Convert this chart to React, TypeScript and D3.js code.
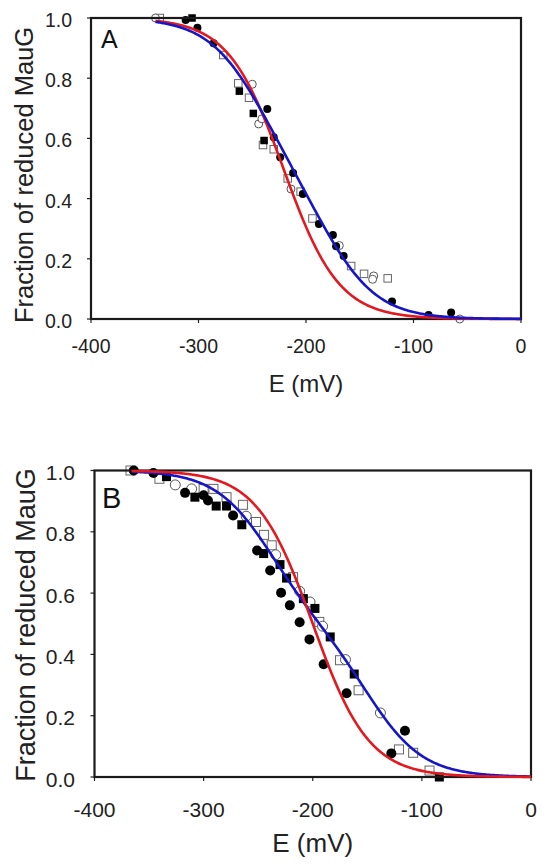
import React from "react";
import * as d3 from "d3";

// ---------- shared axis values ----------
const E_TICKS = [-400, -300, -200, -100, 0];
const F_TICKS = [0, 0.2, 0.4, 0.6, 0.8, 1.0];
const X_TITLE = "E (mV)";
const Y_TITLE = "Fraction of reduced MauG";

// ---------- Panel A data [E (mV), fraction] ----------
const A_FILLED_CIRCLE: [number, number][] = [
  [-312, 0.993], [-301, 0.968], [-286, 0.916], [-236, 0.698], [-230, 0.604],
  [-224, 0.537], [-212, 0.485], [-203, 0.415], [-188, 0.316], [-175, 0.279],
  [-172, 0.242], [-165, 0.209], [-120, 0.058], [-86, 0.013], [-65, 0.022],
];
const A_FILLED_SQUARE: [number, number][] = [
  [-306, 1.0], [-262, 0.757], [-249, 0.683], [-239, 0.593],
];
const A_OPEN_CIRCLE: [number, number][] = [
  [-340, 1.0], [-250, 0.78], [-244, 0.648], [-241, 0.665], [-214, 0.432],
  [-169, 0.244], [-137, 0.143], [-138, 0.132], [-57, 0.0],
];
const A_OPEN_SQUARE: [number, number][] = [
  [-336, 1.0], [-277, 0.877], [-263, 0.783], [-253, 0.735], [-240, 0.578],
  [-230, 0.564], [-217, 0.467], [-205, 0.423], [-194, 0.334], [-158, 0.176],
  [-146, 0.15], [-124, 0.135],
];
// fitted midpoint potentials (mV), n = 1 per site
const A_RED_FIT = [-221];
const A_BLUE_FIT = [-245, -180];

// ---------- Panel B data ----------
const B_FILLED_CIRCLE: [number, number][] = [
  [-364, 1.0], [-346, 0.992], [-317, 0.927], [-300, 0.919], [-296, 0.902],
  [-273, 0.853], [-251, 0.739], [-239, 0.674], [-229, 0.601], [-221, 0.56],
  [-212, 0.505], [-203, 0.449], [-190, 0.368], [-169, 0.273], [-128, 0.077],
  [-115.5, 0.151],
];
const B_FILLED_SQUARE: [number, number][] = [
  [-334, 0.98], [-308, 0.913], [-288.5, 0.884], [-279, 0.884], [-265, 0.823],
  [-245, 0.729], [-230, 0.693], [-224, 0.649], [-208.6, 0.582], [-198, 0.55],
  [-184, 0.457], [-162, 0.336], [-84, 0.0],
];
const B_OPEN_CIRCLE: [number, number][] = [
  [-326, 0.953], [-311, 0.94], [-261, 0.851], [-234, 0.725], [-212, 0.606],
  [-202.5, 0.571], [-191, 0.492], [-170, 0.383], [-138, 0.209],
];
const B_OPEN_SQUARE: [number, number][] = [
  [-367, 1.0], [-340.5, 0.973], [-300, 0.94], [-291, 0.94], [-279, 0.913],
  [-264, 0.888], [-252, 0.832], [-244.6, 0.79], [-237.6, 0.756], [-218, 0.652],
  [-194, 0.506], [-175, 0.381], [-158, 0.283], [-121, 0.09], [-108, 0.079],
  [-93, 0.021],
];
const B_RED_FIT = [-200];
const B_BLUE_FIT = [-240, -148];

const RT_F = 25.69;
function nernst(E: number, sites: number[]) {
  return d3.mean(sites, (em) => 1 / (1 + Math.exp((E - em) / RT_F))) as number;
}

const RED = "#e3191f";
const BLUE = "#1616c8";
const FONT = "Liberation Sans, Arial, Helvetica, sans-serif";

type PanelCfg = {
  label: string;
  left: number; right: number; top: number; bottom: number;
  tickFont: number; titleFont: number; yTitleFont: number; labelFont: number;
  labelX: number; labelY: number;
  xTickBase: number; xTitleBase: number; yTickRight: number;
  yTitleX: number; yTitleCY: number;
  r: number; side: number; eStart: number;
  filledCircle: [number, number][]; filledSquare: [number, number][];
  openCircle: [number, number][]; openSquare: [number, number][];
  red: number[]; blue: number[]; redOnTop: boolean;
};

const PANELS: PanelCfg[] = [
  {
    label: "A", left: 91, right: 521, top: 18, bottom: 319,
    tickFont: 19.5, titleFont: 24, yTitleFont: 25.5, labelFont: 25, labelX: 101, labelY: 48,
    xTickBase: 353, xTitleBase: 392, yTickRight: 72, yTitleX: 33, yTitleCY: 175,
    r: 4, side: 7.5, eStart: -340,
    filledCircle: A_FILLED_CIRCLE, filledSquare: A_FILLED_SQUARE,
    openCircle: A_OPEN_CIRCLE, openSquare: A_OPEN_SQUARE,
    red: A_RED_FIT, blue: A_BLUE_FIT, redOnTop: false,
  },
  {
    label: "B", left: 94.5, right: 531, top: 470.5, bottom: 777,
    tickFont: 21, titleFont: 26, yTitleFont: 27, labelFont: 29, labelX: 102, labelY: 508,
    xTickBase: 817, xTitleBase: 852, yTickRight: 75, yTitleX: 35, yTitleCY: 625,
    r: 5, side: 9, eStart: -366,
    filledCircle: B_FILLED_CIRCLE, filledSquare: B_FILLED_SQUARE,
    openCircle: B_OPEN_CIRCLE, openSquare: B_OPEN_SQUARE,
    red: B_RED_FIT, blue: B_BLUE_FIT, redOnTop: true,
  },
];

function Panel({ p }: { p: PanelCfg }) {
  const x = d3.scaleLinear().domain([-400, 0]).range([p.left, p.right]);
  const y = d3.scaleLinear().domain([0, 1]).range([p.bottom, p.top]);
  const es = d3.range(p.eStart, 0.001, 1);
  const line = d3
    .line<number>()
    .x((e) => x(e))
    .curve(d3.curveLinear);
  const redPath = line.y((e) => y(nernst(e, p.red)))(es) as string;
  const bluePath = line.y((e) => y(nernst(e, p.blue)))(es) as string;
  const redEl = <path d={redPath} fill="none" stroke={RED} strokeWidth={2.6} />;
  const blueEl = <path d={bluePath} fill="none" stroke={BLUE} strokeWidth={2.6} />;
  const h = p.side / 2;
  return (
    <g fontFamily={FONT}>
      {/* ticks */}
      {E_TICKS.map((t) => (
        <line key={"xt" + t} x1={x(t)} x2={x(t)} y1={p.bottom} y2={p.bottom + 4} stroke="#222" strokeWidth={1.2} />
      ))}
      {F_TICKS.map((t) => (
        <line key={"yt" + t} x1={p.left - 4} x2={p.left} y1={y(t)} y2={y(t)} stroke="#222" strokeWidth={1.2} />
      ))}
      {E_TICKS.map((t) => (
        <text key={"xl" + t} x={x(t)} y={p.xTickBase} fontSize={p.tickFont} textAnchor="middle" fill="#222">
          {t}
        </text>
      ))}
      {F_TICKS.map((t) => (
        <text key={"yl" + t} x={p.yTickRight} y={y(t) + 2} fontSize={p.tickFont} textAnchor="end" dominantBaseline="central" fill="#222">
          {t.toFixed(1)}
        </text>
      ))}
      <text x={(p.left + p.right) / 2} y={p.xTitleBase} fontSize={p.titleFont} textAnchor="middle" fill="#222">
        {X_TITLE}
      </text>
      <text
        transform={`translate(${p.yTitleX},${p.yTitleCY}) rotate(-90)`}
        fontSize={p.yTitleFont}
        textAnchor="middle"
        fill="#222"
      >
        {Y_TITLE}
      </text>
      {/* markers */}
      {p.openSquare.map(([e, f], i) => (
        <rect key={"os" + i} x={x(e) - h} y={y(f) - h} width={p.side} height={p.side} fill="#fff" stroke="#666" strokeWidth={1} />
      ))}
      {p.openCircle.map(([e, f], i) => (
        <circle key={"oc" + i} cx={x(e)} cy={y(f)} r={p.r} fill="#fff" stroke="#555" strokeWidth={1} />
      ))}
      {p.filledSquare.map(([e, f], i) => (
        <rect key={"fs" + i} x={x(e) - h} y={y(f) - h} width={p.side} height={p.side} fill="#000" />
      ))}
      {p.filledCircle.map(([e, f], i) => (
        <circle key={"fc" + i} cx={x(e)} cy={y(f)} r={p.r} fill="#000" />
      ))}
      {/* frame */}
      <rect x={p.left} y={p.top} width={p.right - p.left} height={p.bottom - p.top} fill="none" stroke="#1a1a1a" strokeWidth={2.2} />
      {/* curves */}
      {p.redOnTop ? blueEl : redEl}
      {p.redOnTop ? redEl : blueEl}
      <text x={p.labelX} y={p.labelY} fontSize={p.labelFont} fill="#111">
        {p.label}
      </text>
    </g>
  );
}

export default function App() {
  return (
    <svg
      width={554}
      height={864}
      viewBox="0 0 554 864"
      style={{ position: "absolute", left: 0, top: 0, background: "#fff" }}
    >
      <rect x={0} y={0} width={554} height={864} fill="#fff" />
      {PANELS.map((p) => (
        <Panel key={p.label} p={p} />
      ))}
    </svg>
  );
}
